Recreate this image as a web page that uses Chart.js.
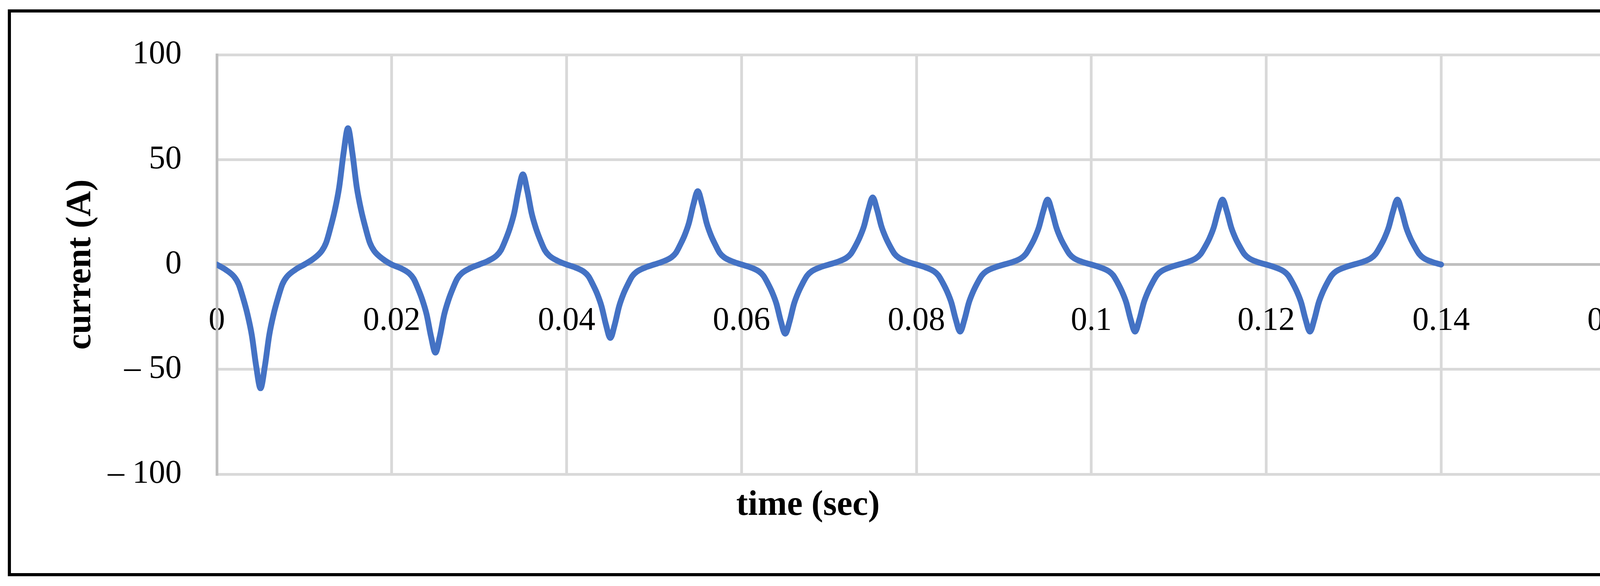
<!DOCTYPE html>
<html><head><meta charset="utf-8">
<script src="https://cdn.jsdelivr.net/npm/chart.js@4/dist/chart.umd.min.js"></script>
<style>
html,body{margin:0;padding:0;background:#fff;overflow:hidden}
#frame{position:absolute;left:20px;top:24px;width:4276px;height:1434px;border:8px solid #000}
#c{position:absolute;left:0;top:0}
</style></head><body>
<div id="frame"></div>
<canvas id="c" width="4347" height="1499" style="width:4347px;height:1499px"></canvas>
<script>
const xTickValues = [0,0.02,0.04,0.06,0.08,0.1,0.12,0.14,0.16];
const yTickValues = [-100,-50,0,50,100];
const lobeCenters = [0.005,0.015,0.025,0.035,0.045,0.055,0.065,0.075,0.085,0.095,0.105,0.115,0.125,0.135];
const lobeOffsets = [-0.005,-0.004,-0.003,-0.0025,-0.002,-0.0015,-0.001,-0.0005,0,0.0005,0.001,0.0015,0.002,0.0025,0.003,0.004,0.005];
const lobeValues = [
 [0,-2.4,-5.9,-9.4,-15.9,-23.6,-33.6,-48.4,-59,-48.4,-33.6,-23.6,-15.9,-9.4,-5.9,-2.4,0],
 [0,2.6,6.5,10.4,17.6,26,37,53.3,65,53.3,37,26,17.6,10.4,6.5,2.6,0],
 [0,-1.7,-4.2,-6.7,-11.3,-16.8,-23.9,-34.4,-42,-34.4,-23.9,-16.8,-11.3,-6.7,-4.2,-1.7,0],
 [0,1.7,4.3,6.9,11.6,17.2,24.5,35.3,43,35.3,24.5,17.2,11.6,6.9,4.3,1.7,0],
 [0,-1.4,-3.5,-5.6,-9.5,-14,-20,-28.7,-35,-28.7,-20,-14,-9.5,-5.6,-3.5,-1.4,0],
 [0,1.4,3.5,5.6,9.5,14,20,28.7,35,28.7,20,14,9.5,5.6,3.5,1.4,0],
 [0,-1.3,-3.3,-5.3,-8.9,-13.2,-18.8,-27.1,-33,-27.1,-18.8,-13.2,-8.9,-5.3,-3.3,-1.3,0],
 [0,1.3,3.2,5.1,8.6,12.8,18.2,26.2,32,26.2,18.2,12.8,8.6,5.1,3.2,1.3,0],
 [0,-1.3,-3.2,-5.1,-8.6,-12.8,-18.2,-26.2,-32,-26.2,-18.2,-12.8,-8.6,-5.1,-3.2,-1.3,0],
 [0,1.2,3.1,5,8.4,12.4,17.7,25.4,31,25.4,17.7,12.4,8.4,5,3.1,1.2,0],
 [0,-1.3,-3.2,-5.1,-8.6,-12.8,-18.2,-26.2,-32,-26.2,-18.2,-12.8,-8.6,-5.1,-3.2,-1.3,0],
 [0,1.2,3.1,5,8.4,12.4,17.7,25.4,31,25.4,17.7,12.4,8.4,5,3.1,1.2,0],
 [0,-1.3,-3.2,-5.1,-8.6,-12.8,-18.2,-26.2,-32,-26.2,-18.2,-12.8,-8.6,-5.1,-3.2,-1.3,0],
 [0,1.2,3.1,5,8.4,12.4,17.7,25.4,31,25.4,17.7,12.4,8.4,5,3.1,1.2,0]
];
const points = [];
lobeCenters.forEach((c,i)=>{
  lobeOffsets.forEach((o,j)=>{
    if(i>0 && j===0) return;
    points.push({x:+(c+o).toFixed(5), y:lobeValues[i][j]});
  });
});
const serif = "'Liberation Serif','DejaVu Serif',serif";
new Chart(document.getElementById('c'),{
  type:'line',
  data:{datasets:[{data:points,borderColor:'#4472C4',borderWidth:15,pointRadius:0,
    cubicInterpolationMode:'monotone',fill:false,borderCapStyle:'round',borderJoinStyle:'round'}]},
  options:{
    responsive:false,animation:false,devicePixelRatio:1,
    layout:{padding:{top:133,right:210,left:0,bottom:0}},
    plugins:{legend:{display:false},tooltip:{enabled:false},
      title:{display:true,position:'bottom',text:'time (sec)',color:'#000',
        font:{family:serif,size:90,weight:'bold'},padding:{top:27,bottom:151}}},
    scales:{
      x:{type:'linear',min:0,max:0.16,position:{y:0},
        afterBuildTicks:s=>{s.ticks=xTickValues.map(v=>({value:v}));},
        ticks:{padding:95,color:'#000',font:{family:serif,size:84},
          callback:v=>String(+v.toFixed(2))},
        grid:{color:'#d9d9d9',lineWidth:7,drawTicks:false},
        border:{color:'#bfbfbf',width:7}},
      y:{min:-100,max:100,
        afterBuildTicks:s=>{s.ticks=yTickValues.map(v=>({value:v}));},
        afterFit:s=>{s.width=555;},
        ticks:{padding:90,color:'#000',font:{family:serif,size:84},
          callback:v=>v<0?'\u2013 '+Math.abs(v):String(v)},
        grid:{color:'#d9d9d9',lineWidth:7,drawTicks:false},
        border:{color:'#bfbfbf',width:7},
        title:{display:true,text:'current (A)',color:'#000',
          font:{family:serif,size:90,weight:'bold'},padding:{top:154,bottom:0}}}
    }
  }
});
</script></body></html>
